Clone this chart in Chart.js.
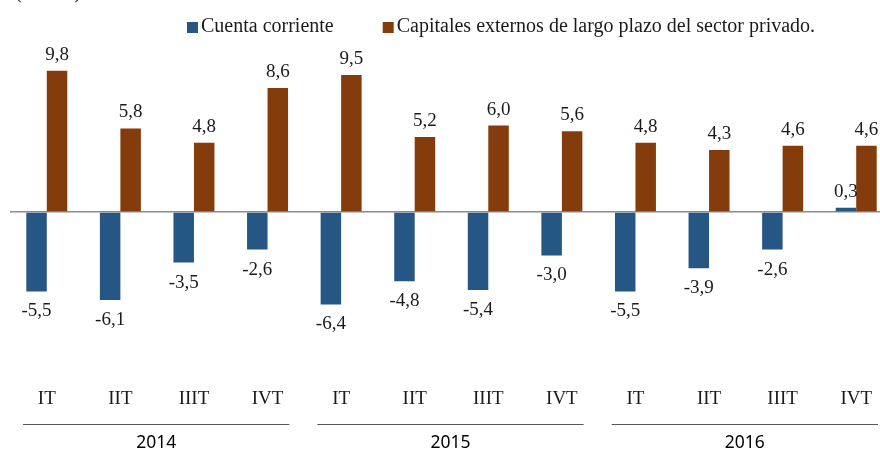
<!DOCTYPE html>
<html>
<head>
<meta charset="utf-8">
<script src="https://cdn.jsdelivr.net/npm/chart.js@4.4.1/dist/chart.umd.min.js"></script>
<style>
  html, body { margin: 0; padding: 0; background: #fff; overflow: hidden; }
  #wrap { width: 896px; height: 451px; }
</style>
</head>
<body>
<div id="wrap"><canvas id="myChart" width="896" height="451"></canvas></div>
<script>
// data
const quarters = ["IT", "IIT", "IIIT", "IVT", "IT", "IIT", "IIIT", "IVT", "IT", "IIT", "IIIT", "IVT"];
const years = ["2014", "2015", "2016"];
const cuentaCorriente = [-5.5, -6.1, -3.5, -2.6, -6.4, -4.8, -5.4, -3.0, -5.5, -3.9, -2.6, 0.3];
const capitalesExternos = [9.8, 5.8, 4.8, 8.6, 9.5, 5.2, 6.0, 5.6, 4.8, 4.3, 4.6, 4.6];
const seriesNames = ["Cuenta corriente", "Capitales externos de largo plazo del sector privado."];

const serif = "'Liberation Serif', 'DejaVu Serif', serif";

// value labels above / below each bar
const barLabels = {
  id: 'barLabels',
  afterDatasetsDraw(chart) {
    const ctx = chart.ctx;
    ctx.save();
    ctx.font = "19px " + serif;
    ctx.fillStyle = '#1a1a1a';
    ctx.textAlign = 'center';
    ctx.textBaseline = 'middle';
    chart.data.datasets.forEach((ds, i) => {
      chart.getDatasetMeta(i).data.forEach((bar, j) => {
        const v = ds.data[j];
        const y = v >= 0 ? bar.y - 16 : bar.y + 20;
        ctx.fillText(v.toFixed(1).replace('.', ','), bar.x, y);
      });
    });
    ctx.restore();
  }
};

// year row under the quarter labels
const yearGroups = {
  id: 'yearGroups',
  afterDraw(chart) {
    const ctx = chart.ctx;
    const x = chart.scales.x;
    const half = (x.getPixelForValue(1) - x.getPixelForValue(0)) / 2;
    ctx.save();
    ctx.strokeStyle = '#595959';
    ctx.lineWidth = 1;
    ctx.fillStyle = '#000';
    ctx.font = "17.5px 'Noto Sans', sans-serif";
    ctx.textAlign = 'center';
    ctx.textBaseline = 'middle';
    years.forEach((yr, g) => {
      const left = x.getPixelForValue(g * 4) - half + 13;
      const right = x.getPixelForValue(g * 4 + 3) + half - 15;
      ctx.beginPath();
      ctx.moveTo(left, 424.5);
      ctx.lineTo(right, 424.5);
      ctx.stroke();
      ctx.fillText(yr, (left + right) / 2, 443);
    });
    ctx.restore();
  }
};

// legend + cut off unit note at the top
const topLegend = {
  id: 'topLegend',
  afterDraw(chart) {
    const ctx = chart.ctx;
    ctx.save();
    ctx.font = "20px " + serif;
    ctx.textBaseline = 'middle';
    ctx.fillStyle = '#1a1a1a';
    ctx.fillText("(% PIB)", 15, -7);
    let lx = 187;
    chart.data.datasets.forEach((ds) => {
      ctx.fillStyle = ds.backgroundColor;
      ctx.fillRect(lx, 22, 11, 11);
      ctx.fillStyle = '#1a1a1a';
      ctx.fillText(ds.label, lx + 14, 27);
      lx += 14 + ctx.measureText(ds.label).width + 49;
    });
    ctx.restore();
  }
};

new Chart(document.getElementById('myChart'), {
  type: 'bar',
  data: {
    labels: quarters,
    datasets: [
      { label: seriesNames[0], data: cuentaCorriente, backgroundColor: '#255684',
        barPercentage: 1, categoryPercentage: 0.557 },
      { label: seriesNames[1], data: capitalesExternos, backgroundColor: '#843c0c',
        barPercentage: 1, categoryPercentage: 0.557 }
    ]
  },
  options: {
    responsive: false,
    animation: false,
    layout: { padding: { top: 39, left: 10, right: 3, bottom: 39 } },
    plugins: { legend: { display: false }, tooltip: { enabled: false } },
    scales: {
      x: {
        grid: { display: false, drawTicks: false },
        border: { display: false },
        ticks: { padding: 2, maxRotation: 0, color: '#1a1a1a', font: { family: serif, size: 19 } }
      },
      y: {
        min: -12, max: 12,
        ticks: { display: false, stepSize: 2 },
        border: { display: false },
        grid: {
          drawTicks: false,
          lineWidth: 1.5,
          color: (c) => c.tick && c.tick.value === 0 ? '#8c8c8c' : 'rgba(0,0,0,0)'
        }
      }
    }
  },
  plugins: [barLabels, yearGroups, topLegend]
});
</script>
</body>
</html>
